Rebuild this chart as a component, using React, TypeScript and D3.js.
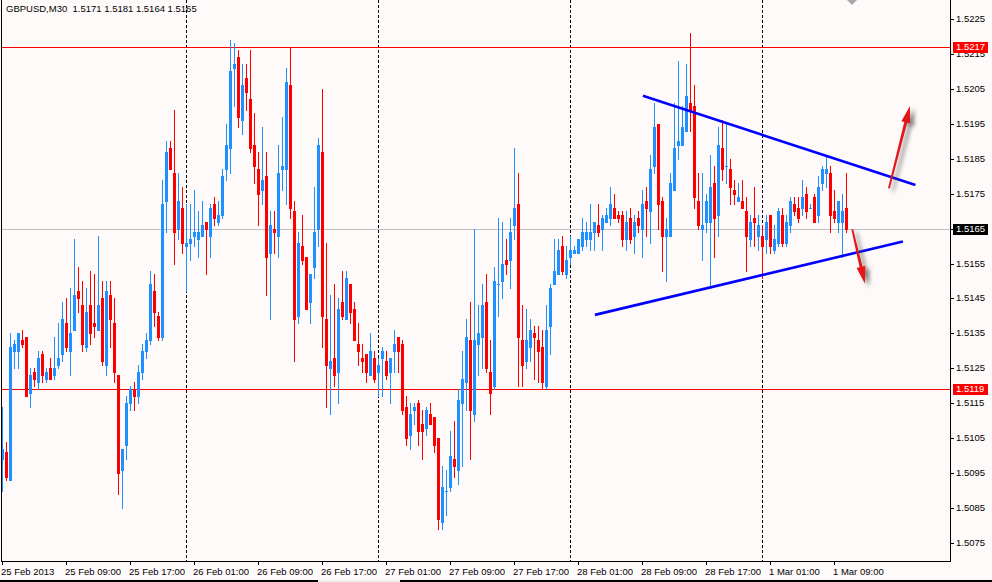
import React from "react";
import * as d3 from "d3";

// GBPUSD M30, 25 Feb 2013 01:00 .. 1 Mar 2013 12:30
const startTime = "2013-02-25T01:00";
const barMinutes = 30;

const opens = [
  1.5099, 1.5101, 1.5093, 1.5130, 1.5130, 1.5133, 1.5134, 1.5118, 1.5124, 1.5121,
  1.5129, 1.5122, 1.5125, 1.5123, 1.5126, 1.5129, 1.5138, 1.5130, 1.5136, 1.5147,
  1.5143, 1.5131, 1.5143, 1.5138, 1.5136, 1.5145, 1.5126, 1.5146, 1.5138, 1.5123,
  1.5096, 1.5103, 1.5115, 1.5119, 1.5117, 1.5124, 1.5130, 1.5133, 1.5147, 1.5140,
  1.5134, 1.5173, 1.5188, 1.5181, 1.5165, 1.5171, 1.5160, 1.5161, 1.5163, 1.5162,
  1.5163, 1.5167, 1.5163, 1.5172, 1.5167, 1.5169, 1.5182, 1.5188, 1.5211, 1.5214,
  1.5196, 1.5208, 1.5202, 1.5189, 1.5182, 1.5176, 1.5180, 1.5158, 1.5165, 1.5163,
  1.5182, 1.5182, 1.5206, 1.5170, 1.5140, 1.5160, 1.5157, 1.5144, 1.5154, 1.5165,
  1.5187, 1.5139, 1.5125, 1.5128, 1.5124, 1.5144, 1.5139, 1.5149, 1.5142, 1.5132,
  1.5128, 1.5129, 1.5123, 1.5128, 1.5124, 1.5128, 1.5127, 1.5124, 1.5130, 1.5134,
  1.5132, 1.5114, 1.5106, 1.5113, 1.5115, 1.5109, 1.5108, 1.5112, 1.5111, 1.5105,
  1.5081, 1.5090, 1.5091, 1.5099, 1.5096, 1.5115, 1.5121, 1.5133, 1.5112, 1.5132,
  1.5134, 1.5144, 1.5124, 1.5120, 1.5149, 1.5150, 1.5156, 1.5156, 1.5166, 1.5172,
  1.5133, 1.5127, 1.5131, 1.5135, 1.5133, 1.5131, 1.5120, 1.5137, 1.5149, 1.5152,
  1.5160, 1.5152, 1.5157, 1.5158, 1.5158, 1.5160, 1.5162, 1.5162, 1.5164, 1.5166,
  1.5165, 1.5167, 1.5168, 1.5171, 1.5169, 1.5169, 1.5162, 1.5168, 1.5163, 1.5168,
  1.5165, 1.5173, 1.5170, 1.5183, 1.5195, 1.5173, 1.5163, 1.5163, 1.5176, 1.5189,
  1.5189, 1.5193, 1.5201, 1.5200, 1.5173, 1.5165, 1.5167, 1.5167, 1.5178, 1.5169,
  1.5188, 1.5183, 1.5182, 1.5176, 1.5173, 1.5173, 1.5170, 1.5162, 1.5168, 1.5163,
  1.5163, 1.5162, 1.5169, 1.5159, 1.5161, 1.5169, 1.5161, 1.5166, 1.5172, 1.5171,
  1.5171, 1.5175, 1.5171, 1.5174, 1.5169, 1.5178, 1.5181, 1.5181, 1.5170, 1.5167,
  1.5167, 1.5171,
];
const highs = [
  1.5114, 1.5104, 1.5135, 1.5133, 1.5135, 1.5136, 1.5134, 1.5125, 1.5125, 1.5130,
  1.5130, 1.5125, 1.5128, 1.5134, 1.5138, 1.5144, 1.5145, 1.5148, 1.5162, 1.5154,
  1.5150, 1.5148, 1.5153, 1.5152, 1.5163, 1.5150, 1.5150, 1.5150, 1.5145, 1.5123,
  1.5102, 1.5117, 1.5120, 1.5121, 1.5126, 1.5132, 1.5135, 1.5153, 1.5152, 1.5141,
  1.5179, 1.5190, 1.5190, 1.5199, 1.5181, 1.5177, 1.5172, 1.5172, 1.5176, 1.5170,
  1.5173, 1.5167, 1.5172, 1.5174, 1.5173, 1.5182, 1.5195, 1.5219, 1.5218, 1.5216,
  1.5212, 1.5212, 1.5216, 1.5198, 1.5187, 1.5194, 1.5187, 1.5170, 1.5170, 1.5189,
  1.5197, 1.5211, 1.5217, 1.5173, 1.5164, 1.5169, 1.5157, 1.5152, 1.5177, 1.5191,
  1.5205, 1.5161, 1.5146, 1.5149, 1.5145, 1.5153, 1.5153, 1.5149, 1.5144, 1.5138,
  1.5132, 1.5129, 1.5135, 1.5130, 1.5128, 1.5131, 1.5130, 1.5128, 1.5136, 1.5134,
  1.5133, 1.5117, 1.5115, 1.5115, 1.5116, 1.5113, 1.5114, 1.5115, 1.5111, 1.5105,
  1.5097, 1.5096, 1.5107, 1.5110, 1.5119, 1.5130, 1.5139, 1.5144, 1.5165, 1.5143,
  1.5149, 1.5152, 1.5133, 1.5154, 1.5168, 1.5167, 1.5162, 1.5168, 1.5188, 1.5181,
  1.5143, 1.5142, 1.5139, 1.5137, 1.5137, 1.5136, 1.5143, 1.5149, 1.5162, 1.5162,
  1.5163, 1.5160, 1.5163, 1.5160, 1.5162, 1.5168, 1.5167, 1.5172, 1.5167, 1.5172,
  1.5169, 1.5171, 1.5177, 1.5175, 1.5170, 1.5170, 1.5170, 1.5171, 1.5169, 1.5170,
  1.5176, 1.5177, 1.5186, 1.5201, 1.5195, 1.5174, 1.5168, 1.5181, 1.5201, 1.5213,
  1.5200, 1.5212, 1.5221, 1.5206, 1.5181, 1.5181, 1.5175, 1.5186, 1.5183, 1.5194,
  1.5196, 1.5195, 1.5185, 1.5179, 1.5178, 1.5179, 1.5174, 1.5169, 1.5177, 1.5169,
  1.5166, 1.5169, 1.5169, 1.5166, 1.5171, 1.5171, 1.5169, 1.5174, 1.5174, 1.5174,
  1.5179, 1.5177, 1.5172, 1.5175, 1.5180, 1.5183, 1.5186, 1.5183, 1.5176, 1.5173,
  1.5175, 1.5181,
];
const lows = [
  1.5090, 1.5093, 1.5093, 1.5125, 1.5125, 1.5131, 1.5117, 1.5114, 1.5120, 1.5119,
  1.5121, 1.5121, 1.5122, 1.5122, 1.5125, 1.5127, 1.5130, 1.5123, 1.5136, 1.5141,
  1.5130, 1.5130, 1.5132, 1.5134, 1.5136, 1.5126, 1.5123, 1.5131, 1.5121, 1.5089,
  1.5085, 1.5099, 1.5113, 1.5113, 1.5115, 1.5122, 1.5128, 1.5132, 1.5137, 1.5133,
  1.5133, 1.5164, 1.5182, 1.5155, 1.5162, 1.5158, 1.5147, 1.5156, 1.5160, 1.5157,
  1.5163, 1.5152, 1.5157, 1.5166, 1.5166, 1.5168, 1.5179, 1.5181, 1.5200, 1.5194,
  1.5192, 1.5199, 1.5187, 1.5178, 1.5166, 1.5172, 1.5146, 1.5139, 1.5158, 1.5157,
  1.5176, 1.5172, 1.5168, 1.5127, 1.5138, 1.5155, 1.5142, 1.5138, 1.5151, 1.5160,
  1.5131, 1.5114, 1.5112, 1.5120, 1.5115, 1.5139, 1.5139, 1.5138, 1.5133, 1.5126,
  1.5124, 1.5121, 1.5123, 1.5121, 1.5117, 1.5117, 1.5122, 1.5115, 1.5124, 1.5124,
  1.5112, 1.5103, 1.5102, 1.5109, 1.5103, 1.5099, 1.5106, 1.5109, 1.5101, 1.5079,
  1.5079, 1.5083, 1.5090, 1.5094, 1.5092, 1.5097, 1.5113, 1.5099, 1.5110, 1.5123,
  1.5125, 1.5124, 1.5112, 1.5119, 1.5140, 1.5145, 1.5152, 1.5148, 1.5162, 1.5120,
  1.5120, 1.5125, 1.5127, 1.5122, 1.5121, 1.5119, 1.5119, 1.5129, 1.5149, 1.5152,
  1.5152, 1.5151, 1.5155, 1.5158, 1.5158, 1.5159, 1.5160, 1.5159, 1.5159, 1.5163,
  1.5159, 1.5167, 1.5166, 1.5168, 1.5167, 1.5160, 1.5159, 1.5161, 1.5158, 1.5164,
  1.5157, 1.5163, 1.5161, 1.5181, 1.5165, 1.5153, 1.5150, 1.5163, 1.5176, 1.5185,
  1.5189, 1.5193, 1.5193, 1.5171, 1.5165, 1.5156, 1.5164, 1.5148, 1.5157, 1.5163,
  1.5179, 1.5178, 1.5172, 1.5172, 1.5173, 1.5171, 1.5153, 1.5160, 1.5160, 1.5159,
  1.5151, 1.5158, 1.5158, 1.5158, 1.5160, 1.5160, 1.5160, 1.5164, 1.5169, 1.5167,
  1.5169, 1.5168, 1.5171, 1.5167, 1.5167, 1.5176, 1.5177, 1.5164, 1.5167, 1.5164,
  1.5157, 1.5164,
];
const closes = [
  1.5102, 1.5094, 1.5131, 1.5132, 1.5135, 1.5132, 1.5117, 1.5123, 1.5122, 1.5128,
  1.5123, 1.5124, 1.5122, 1.5125, 1.5128, 1.5139, 1.5131, 1.5135, 1.5146, 1.5145,
  1.5132, 1.5141, 1.5135, 1.5137, 1.5143, 1.5127, 1.5147, 1.5139, 1.5124, 1.5095,
  1.5102, 1.5115, 1.5119, 1.5117, 1.5124, 1.5130, 1.5133, 1.5149, 1.5141, 1.5134,
  1.5172, 1.5187, 1.5182, 1.5164, 1.5173, 1.5161, 1.5161, 1.5162, 1.5164, 1.5164,
  1.5166, 1.5165, 1.5171, 1.5168, 1.5169, 1.5180, 1.5189, 1.5210, 1.5212, 1.5197,
  1.5206, 1.5204, 1.5188, 1.5183, 1.5175, 1.5179, 1.5157, 1.5166, 1.5164, 1.5181,
  1.5183, 1.5207, 1.5171, 1.5139, 1.5161, 1.5156, 1.5142, 1.5152, 1.5164, 1.5189,
  1.5140, 1.5126, 1.5127, 1.5123, 1.5142, 1.5140, 1.5151, 1.5141, 1.5133, 1.5130,
  1.5127, 1.5124, 1.5130, 1.5122, 1.5126, 1.5130, 1.5123, 1.5128, 1.5132, 1.5130,
  1.5113, 1.5105, 1.5112, 1.5114, 1.5107, 1.5107, 1.5113, 1.5109, 1.5103, 1.5082,
  1.5091, 1.5090, 1.5100, 1.5097, 1.5116, 1.5122, 1.5134, 1.5113, 1.5133, 1.5135,
  1.5143, 1.5125, 1.5118, 1.5150, 1.5149, 1.5155, 1.5155, 1.5164, 1.5171, 1.5134,
  1.5126, 1.5133, 1.5136, 1.5134, 1.5130, 1.5121, 1.5136, 1.5148, 1.5153, 1.5159,
  1.5153, 1.5156, 1.5159, 1.5159, 1.5162, 1.5164, 1.5164, 1.5164, 1.5167, 1.5164,
  1.5168, 1.5169, 1.5172, 1.5168, 1.5168, 1.5162, 1.5167, 1.5162, 1.5167, 1.5166,
  1.5172, 1.5171, 1.5182, 1.5194, 1.5172, 1.5163, 1.5165, 1.5178, 1.5188, 1.5190,
  1.5194, 1.5203, 1.5199, 1.5174, 1.5166, 1.5166, 1.5173, 1.5177, 1.5168, 1.5189,
  1.5182, 1.5183, 1.5177, 1.5175, 1.5174, 1.5171, 1.5163, 1.5167, 1.5167, 1.5166,
  1.5160, 1.5167, 1.5160, 1.5162, 1.5170, 1.5161, 1.5167, 1.5173, 1.5170, 1.5168,
  1.5174, 1.5170, 1.5171, 1.5167, 1.5177, 1.5182, 1.5182, 1.5169, 1.5168, 1.5173,
  1.5170, 1.5165,
];

const priceTicks = [
  1.5225, 1.5215, 1.5205, 1.5195, 1.5185, 1.5175, 1.5165, 1.5155,
  1.5145, 1.5135, 1.5125, 1.5115, 1.5105, 1.5095, 1.5085, 1.5075,
];
const timeTicks = [
  "2013-02-25T01:00", "2013-02-25T09:00", "2013-02-25T17:00",
  "2013-02-26T01:00", "2013-02-26T09:00", "2013-02-26T17:00",
  "2013-02-27T01:00", "2013-02-27T09:00", "2013-02-27T17:00",
  "2013-02-28T01:00", "2013-02-28T09:00", "2013-02-28T17:00",
  "2013-03-01T01:00", "2013-03-01T09:00",
];
const timeTickLabels = [
  "25 Feb 2013", "25 Feb 09:00", "25 Feb 17:00",
  "26 Feb 01:00", "26 Feb 09:00", "26 Feb 17:00",
  "27 Feb 01:00", "27 Feb 09:00", "27 Feb 17:00",
  "28 Feb 01:00", "28 Feb 09:00", "28 Feb 17:00",
  "1 Mar 01:00", "1 Mar 09:00",
];
const daySeparators = ["2013-02-26T00:00", "2013-02-27T00:00", "2013-02-28T00:00", "2013-03-01T00:00"];

const highLine = 1.5217;
const lowLine = 1.5119;
const bidPrice = 1.5165;

// triangle drawn on the chart
const trendUpper: [string, number][] = [["2013-02-28T09:03", 1.5203], ["2013-03-01T19:07", 1.51775]];
const trendLower: [string, number][] = [["2013-02-28T03:03", 1.51403], ["2013-03-01T17:33", 1.51613]];
const arrowUp: [string, number][] = [["2013-03-01T15:48", 1.51765], ["2013-03-01T18:26", 1.52001]];
const arrowDown: [string, number][] = [["2013-03-01T11:13", 1.51648], ["2013-03-01T12:48", 1.51493]];

const W = 992;
const H = 582;
const plotRight = 950;
const plotBottom = 561;
const BG = "#FFFAFA";
const BULL = "#1E90FF";
const BEAR = "#FF0000";
const FONT = "'Liberation Sans', Arial, sans-serif";

const parse = d3.utcParse("%Y-%m-%dT%H:%M");

function arrowPath(x1: number, y1: number, x2: number, y2: number) {
  const dx = x2 - x1;
  const dy = y2 - y1;
  const len = Math.sqrt(dx * dx + dy * dy);
  const ux = dx / len;
  const uy = dy / len;
  const nx = -uy;
  const ny = ux;
  const headLen = 17;
  const headW = 4.5;
  const bx = x2 - ux * headLen;
  const by = y2 - uy * headLen;
  const pts = [
    [x1 + nx * 0.9, y1 + ny * 0.9],
    [bx + nx * 1.5, by + ny * 1.5],
    [bx + nx * headW, by + ny * headW],
    [x2, y2],
    [bx - nx * headW, by - ny * headW],
    [bx - nx * 1.5, by - ny * 1.5],
    [x1 - nx * 0.9, y1 - ny * 0.9],
  ];
  return "M" + pts.map((p) => p[0].toFixed(1) + "," + p[1].toFixed(1)).join("L") + "Z";
}

const App = () => {
  const t0 = parse(startTime) as Date;
  const step = barMinutes * 60000;
  const times = opens.map((_, i) => new Date(t0.getTime() + i * step));

  // 4px per bar, 237 bars across the plot
  const x = d3
    .scaleUtc()
    .domain([t0, new Date(t0.getTime() + 237 * step)])
    .range([2.5, 950.5]);
  const y = d3.scaleLinear().domain([1.5075, 1.5225]).range([543, 19]);

  const px = (s: string) => x(parse(s) as Date);
  const py = (p: number) => Math.round(y(p));

  const candles = opens.map((o, i) => {
    const c = closes[i];
    const cx = Math.floor(x(times[i])) + 0.5;
    const bull = c >= o;
    const color = bull ? BULL : BEAR;
    const yh = py(highs[i]);
    const yl = py(lows[i]);
    const yTop = py(Math.max(o, c));
    const yBot = py(Math.min(o, c));
    return (
      <g key={i} fill={color}>
        <rect x={cx - 0.5} y={yh} width={1} height={Math.max(1, yl - yh + 1)} />
        <rect x={cx - 1.5} y={yTop} width={3} height={Math.max(1, yBot - yTop + 1)} />
      </g>
    );
  });

  const line = (pts: [string, number][]) => ({
    x1: px(pts[0][0]),
    y1: y(pts[0][1]),
    x2: px(pts[1][0]),
    y2: y(pts[1][1]),
  });
  const up = line(trendUpper);
  const lo = line(trendLower);
  const a1 = line(arrowUp);
  const a2 = line(arrowDown);

  const levelBox = (p: number, fill: string) => {
    const yy = py(p);
    return (
      <g>
        <rect x={953} y={yy - 5} width={35} height={11} fill={fill} />
        <text x={956} y={yy} dy="0.35em" fill="#fff" fontSize={9.5} fontFamily={FONT}>
          {p.toFixed(4)}
        </text>
      </g>
    );
  };

  return (
    <svg width={W} height={H} style={{ position: "absolute", left: 0, top: 0, display: "block" }}>
      <defs>
        <filter id="shadow" x="-50%" y="-50%" width="200%" height="200%">
          <feDropShadow dx="4" dy="3" stdDeviation="2.2" floodColor="#444" floodOpacity="0.7" />
        </filter>
      </defs>
      <rect x={0} y={0} width={W} height={H} fill={BG} />

      {/* day separators */}
      {daySeparators.map((d) => {
        const xx = Math.floor(px(d)) + 0.5;
        return (
          <line key={d} x1={xx} x2={xx} y1={0} y2={plotBottom} stroke="#000" strokeDasharray="3,2" />
        );
      })}

      {/* level lines */}
      <line x1={1} x2={plotRight} y1={py(bidPrice) + 0.5} y2={py(bidPrice) + 0.5} stroke="#C0C0C0" />
      <line x1={1} x2={plotRight} y1={py(highLine) + 0.5} y2={py(highLine) + 0.5} stroke="#FF0000" />
      <line x1={1} x2={plotRight} y1={py(lowLine) + 0.5} y2={py(lowLine) + 0.5} stroke="#FF0000" />

      {candles}

      {/* triangle */}
      <line {...up} stroke="#0000FF" strokeWidth={2.6} />
      <line {...lo} stroke="#0000FF" strokeWidth={2.6} />
      <path d={arrowPath(a1.x1, a1.y1, a1.x2, a1.y2)} fill="#E51515" filter="url(#shadow)" />
      <path d={arrowPath(a2.x1, a2.y1, a2.x2, a2.y2)} fill="#E51515" filter="url(#shadow)" />

      {/* frame */}
      <line x1={1.5} x2={1.5} y1={0} y2={plotBottom + 1} stroke="#000" />
      <line x1={plotRight + 0.5} x2={plotRight + 0.5} y1={0} y2={plotBottom + 1} stroke="#000" />
      <line x1={1} x2={plotRight + 1} y1={plotBottom + 0.5} y2={plotBottom + 0.5} stroke="#000" />

      {/* price axis */}
      {priceTicks.map((p) => {
        const yy = py(p);
        return (
          <g key={p}>
            <line x1={951} x2={954} y1={yy + 0.5} y2={yy + 0.5} stroke="#000" />
            <text x={956} y={yy} dy="0.35em" fontSize={9.5} fontFamily={FONT} fill="#000">
              {p.toFixed(4)}
            </text>
          </g>
        );
      })}
      {levelBox(highLine, "#FF0000")}
      {levelBox(bidPrice, "#000000")}
      {levelBox(lowLine, "#FF0000")}

      {/* time axis */}
      {timeTicks.map((t, i) => {
        const xx = Math.floor(px(t)) + 0.5;
        return (
          <g key={t}>
            <line x1={xx} x2={xx} y1={plotBottom + 1} y2={plotBottom + 4} stroke="#000" />
            <text x={xx - 1.5} y={574.5} fontSize={9.5} fontFamily={FONT} fill="#000">
              {timeTickLabels[i]}
            </text>
          </g>
        );
      })}

      <text x={6} y={12} fontSize={9.5} fontFamily={FONT} fill="#000" style={{ whiteSpace: "pre" }}>
        {"GBPUSD,M30  " + [opens[211], highs[211], lows[211], closes[211]].map((v) => v.toFixed(4)).join(" ")}
      </text>

      {/* chart shift marker */}
      <polygon points="847,0 857,0 852,5" fill="#A8A8A8" />

      {/* window edge */}
      <rect x={0} y={580} width={W} height={2} fill="#000" />
      <rect x={318} y={580} width={82} height={2} fill="#F0EEE8" />
    </svg>
  );
};

export default App;
